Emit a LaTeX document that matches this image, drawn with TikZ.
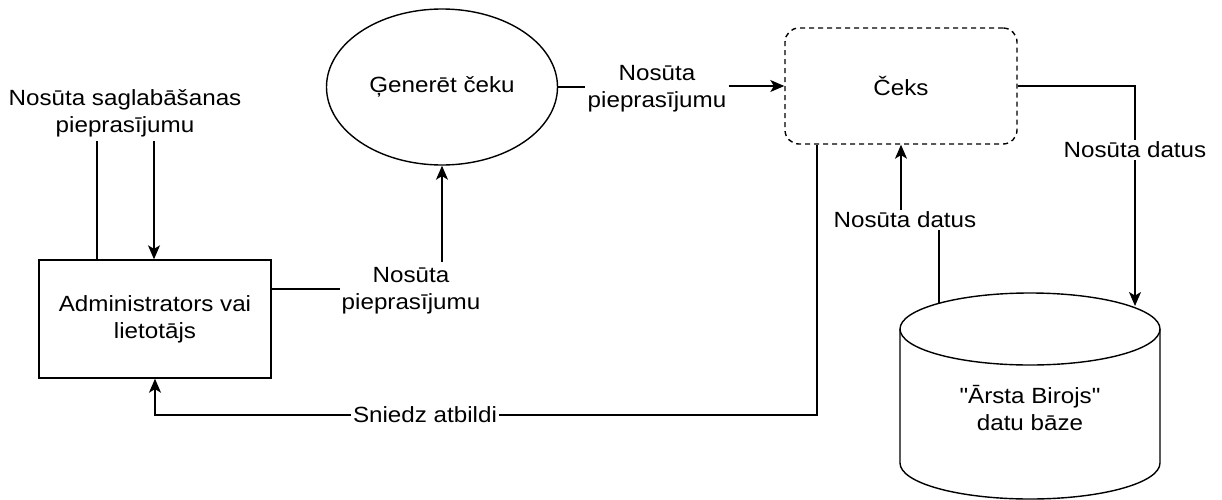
\documentclass[tikz,border=0pt]{standalone}
\usepackage{fontspec}
\newfontfamily\diafont{Liberation Sans}[FakeStretch=1.1]
\usetikzlibrary{arrows.meta,shapes.geometric}

\tikzset{
  ln/.style={line width=0.7pt},
  box/.style={rectangle, draw, ln, align=center},
  lbl/.style={align=center, inner sep=1pt},
  arr/.style={ln, -{Stealth[length=7pt, width=6pt, inset=1.8pt]}},
}

\begin{document}
\begin{tikzpicture}[x=0.5pt, y=-0.5pt, font=\diafont\fontsize{11}{13.5}\selectfont]
  \useasboundingbox (0,0) rectangle (1222,499);
  % Nodes
  \node (admin) [box, minimum width=116pt, minimum height=59pt] at (155,319) {Administrators vai\\lietotājs};
  \node (gen) [ellipse, draw, ln, minimum width=115.5pt, minimum height=78pt] at (442,87) {Ģenerēt čeku};
  \node (ceks) [box, dash pattern=on 2.5pt off 2pt, rounded corners=7pt, minimum width=116pt, minimum height=58pt] at (901,86) {Čeks};
  \node (db) [lbl] at (1030,408) {"Ārsta Birojs"\\datu bāze};
  % Database
  \draw[ln] (1030,329) ellipse [x radius=65pt, y radius=18pt];
  \draw[ln] (900,329) -- (900,463) arc [start angle=180, end angle=360, x radius=65pt, y radius=18pt] -- (1160,329);
  \coordinate (dbTopL) at (939,303);
  \coordinate (dbTopR) at (1135,306);
  % Labels
  \node (lblSave) [lbl] at (125,113) {Nosūta saglabāšanas\\pieprasījumu};
  \node (lblGen) [lbl] at (411,291) {Nosūta\\pieprasījumu};
  \node (lblCeks) [lbl] at (657,89) {Nosūta\\pieprasījumu};
  \node (lblDbIn) [lbl] at (905,220) {Nosūta datus};
  \node (lblDbOut) [lbl] at (1135,150) {Nosūta datus};
  \node (lblResp) [lbl] at (425,415) {Sniedz atbildi};
  \coordinate (saveL) at (97,141);
  \coordinate (saveR) at (154,141);
  \coordinate (genIn) at (340,289);
  \coordinate (genUp) at (442,262);
  \coordinate (respX) at (817,415);
  % Arrow
  \draw[ln] (admin.north -| saveL) -- (saveL);
  \draw[arr] (saveR) -- (admin.north -| saveR);
  \draw[ln] (admin.east |- genIn) -- (genIn);
  \draw[arr] (gen.south |- genUp) -- (gen.south);
  \draw[ln] (gen.east) -- (lblCeks.west |- gen.east);
  \draw[arr] (lblCeks.east |- ceks.west) -- (ceks.west);
  \draw[ln] (ceks.east) -| (lblDbOut.north);
  \draw[arr] (lblDbOut.south) -- (dbTopR);
  \draw[ln] (dbTopL) -- (dbTopL |- lblDbIn.south);
  \draw[arr] (lblDbIn.north -| ceks.south) -- (ceks.south);
  \draw[ln] (ceks.south -| respX) -- (respX) -- (lblResp.east);
  \draw[arr] (lblResp.west) -| (admin.south);
\end{tikzpicture}
\end{document}
